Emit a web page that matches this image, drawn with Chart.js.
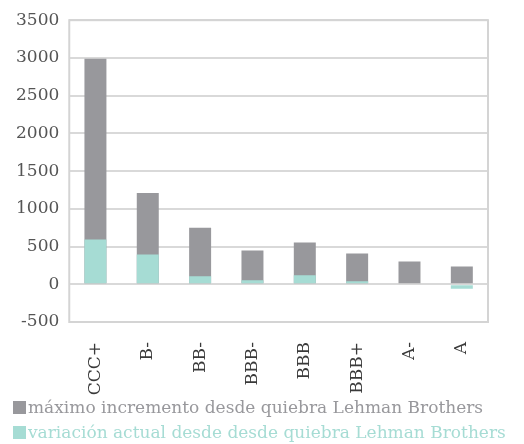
<!DOCTYPE html>
<html>
<head>
<meta charset="utf-8">
<script src="https://cdn.jsdelivr.net/npm/chart.js@4"></script>
<style>
    body { margin: 0; background: #fff; width: 524px; height: 444px; overflow: hidden; position: relative; }
    canvas { display: block; }
    #legend { position: absolute; left: 0; top: 395px; margin: 0; padding: 0; list-style: none; font-family: 'DejaVu Serif'; font-size: 17px; }
    #legend li { position: relative; height: 25px; line-height: 25px; padding-left: 28px; white-space: nowrap; }
    #legend span { position: absolute; left: 13px; top: 6px; width: 13px; height: 13px; }
</style>
</head>
<body>
<canvas id="myChart" width="524" height="444"></canvas>
<ul id="legend"></ul>
<script>
// ratings on the x axis
const ratings = ['CCC+', 'B-', 'BB-', 'BBB-', 'BBB', 'BBB+', 'A-', 'A'];
// grey bars: max increase, teal bars: current change
const maxIncrease = [2990, 1210, 750, 447, 553, 408, 303, 237];
const currentChange = [592, 395, 105, 53, 118, 40, 15, -60];

const greyColor = '#98989c';
const tealColor = '#a6dcd4';

// draw the plot frame (top, right, left, bottom)
const frame = {
    id: 'frame',
    afterDatasetsDraw(chart) {
        const { ctx, chartArea } = chart;
        ctx.save();
        ctx.strokeStyle = '#d4d4d4';
        ctx.lineWidth = 2;
        ctx.strokeRect(chartArea.left, chartArea.top, chartArea.right - chartArea.left, chartArea.bottom - chartArea.top);
        ctx.restore();
    }
};

const ctx = document.getElementById('myChart').getContext('2d');
const myChart = new Chart(ctx, { // eslint-disable-line
    type: 'bar',
    data: {
        labels: ratings,
        datasets: [
            {
                label: 'máximo incremento desde quiebra Lehman Brothers',
                data: maxIncrease,
                backgroundColor: greyColor,
                order: 1
            },
            {
                label: 'variación actual desde desde quiebra Lehman Brothers',
                data: currentChange,
                backgroundColor: tealColor,
                order: 0
            }
        ]
    },
    options: {
        responsive: false,
        animation: false,
        layout: { padding: { top: 8, right: 36, left: 6 } },
        datasets: {
            bar: {
                grouped: false,
                categoryPercentage: 1,
                barPercentage: 0.42
            }
        },
        scales: {
            x: {
                grid: { display: false },
                border: { display: false },
                // leave room under the labels for the legend
                afterFit: (scale) => { scale.height = 122; },
                ticks: {
                    color: '#3a3a3a',
                    minRotation: 90,
                    maxRotation: 90,
                    padding: 12,
                    font: { family: 'DejaVu Serif', size: 17 }
                }
            },
            y: {
                min: -500,
                max: 3500,
                grid: { color: '#d9d9d9', lineWidth: 2, drawTicks: false },
                border: { display: false },
                ticks: {
                    stepSize: 500,
                    color: '#555555',
                    padding: 10,
                    font: { family: 'DejaVu Serif', size: 17 },
                    callback: (value) => String(value)
                }
            }
        },
        plugins: {
            tooltip: { enabled: false },
            legend: { display: false }
        }
    },
    plugins: [frame]
});

// html legend, text coloured like the series
const legendList = document.getElementById('legend');
for (let ds of myChart.data.datasets) {
    const li = document.createElement('li');
    const box = document.createElement('span');
    box.style.background = ds.backgroundColor;
    li.style.color = ds.backgroundColor;
    li.append(box, ds.label);
    legendList.append(li);
}
</script>
</body>
</html>
